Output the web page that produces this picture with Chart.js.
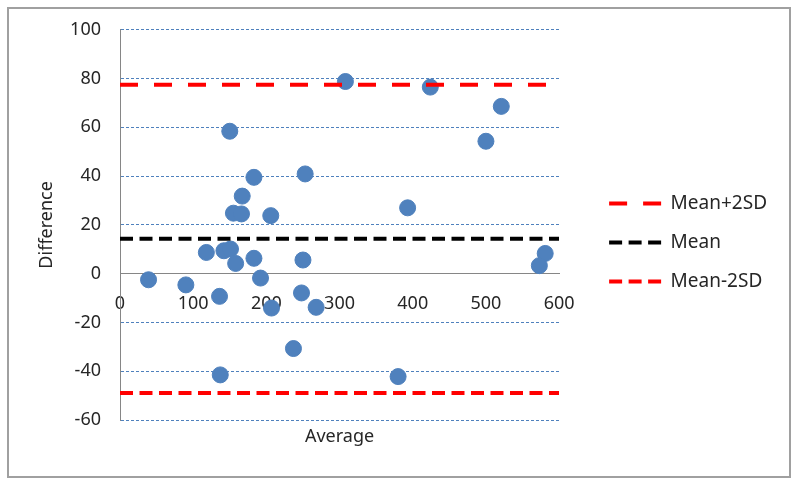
<!DOCTYPE html>
<html>
<head>
<meta charset="utf-8">
<script src="https://cdn.jsdelivr.net/npm/chart.js@4/dist/chart.umd.min.js"></script>
<style>
  html, body { margin: 0; padding: 0; background: #fff; }
  #wrap { width: 800px; height: 487px; }
</style>
</head>
<body>
<div id="wrap"><canvas id="baChart"></canvas></div>
<script>
// DATA
let avgValues  = [308, 150, 183, 253, 167, 155, 166, 206, 39, 90, 118, 142, 151, 158, 183, 192, 136, 207, 250, 248, 268, 237, 137, 424, 521, 500, 393, 581, 573, 380];
let diffValues = [78.8, 58.4, 39.5, 40.9, 31.8, 24.8, 24.5, 23.8, -2.5, -4.6, 8.7, 9.4, 10.1, 4.2, 6.3, -1.8, -9.3, -14.1, 5.6, -7.9, -13.8, -30.7, -41.5, 76.5, 68.6, 54.3, 27.0, 8.3, 3.3, -42.2];
let lineLabels = ['Mean+2SD', 'Mean', 'Mean-2SD'];
let lineLevels = [77.5, 14.3, -48.9];
let lineSpan   = [0, 600];
let xTicks = [0, 100, 200, 300, 400, 500, 600];
let yTicks = [-60, -40, -20, 0, 20, 40, 60, 80, 100];

let lineColors = ['#FF0000', '#000000', '#FF0000'];
let lineDashes = [[18, 16], [13, 6.5], [13, 6.5]];

let font = { family: 'Noto Sans', size: 18 };
let legendFont = { family: 'Noto Sans', size: 19 };

// white background + grey frame
const framePlugin = {
  id: 'frame',
  beforeDraw(chart) {
    let c = chart.ctx;
    c.save();
    c.fillStyle = '#fff';
    c.fillRect(0, 0, chart.width, chart.height);
    c.strokeStyle = '#A0A0A0';
    c.lineWidth = 2;
    c.strokeRect(8, 8, 782, 469);
    c.restore();
  }
};

let datasets = [{
  type: 'scatter',
  label: 'points',
  data: avgValues.map((x, i) => ({ x: x, y: diffValues[i] })),
  backgroundColor: '#4F81BD',
  borderColor: '#4F81BD',
  pointRadius: 8,
  pointHoverRadius: 8,
  order: 1
}];

lineLabels.forEach((lbl, i) => {
  datasets.push({
    type: 'line',
    label: lbl,
    data: lineSpan.map(x => ({ x: x, y: lineLevels[i] })),
    borderColor: lineColors[i],
    backgroundColor: lineColors[i],
    borderWidth: 4,
    borderDash: lineDashes[i],
    pointRadius: 0,
    fill: false,
    order: 0
  });
});

new Chart(document.getElementById('baChart'), {
  data: { datasets: datasets },
  plugins: [framePlugin],
  options: {
    responsive: true,
    maintainAspectRatio: false,
    animation: false,
    events: [],
    layout: { padding: { left: 0, right: 23, top: 25, bottom: 27 } },
    plugins: {
      tooltip: { enabled: false },
      legend: {
        position: 'right',
        labels: {
          font: legendFont,
          color: '#262626',
          usePointStyle: true,
          pointStyle: 'line',
          pointStyleWidth: 52,
          padding: 20,
          filter: item => item.text !== 'points',
          generateLabels: chart => {
            let items = Chart.defaults.plugins.legend.labels.generateLabels(chart);
            items.forEach(it => {
              let ds = chart.data.datasets[it.datasetIndex];
              it.pointStyle = 'line';
              it.lineDash = ds.borderDash;
              it.lineWidth = ds.borderWidth;
              it.strokeStyle = ds.borderColor;
            });
            return items;
          }
        }
      }
    },
    scales: {
      x: {
        type: 'linear',
        position: { y: 0 },
        min: 0,
        max: 600,
        afterBuildTicks: s => { s.ticks = xTicks.map(v => ({ value: v })); },
        ticks: { font: font, color: '#262626', padding: 19 },
        grid: { drawOnChartArea: false, drawTicks: false },
        border: { display: true, color: '#868686', width: 1 }
      },
      x2: {
        type: 'linear',
        position: 'bottom',
        min: 0,
        max: 600,
        afterFit: s => { s.height = 40; },
        ticks: { display: false },
        grid: { display: false, drawTicks: false },
        border: { display: false },
        title: { display: true, text: 'Average', font: font, color: '#262626', padding: { top: 6, bottom: 12 } }
      },
      y: {
        type: 'linear',
        min: -60,
        max: 100,
        afterBuildTicks: s => { s.ticks = yTicks.map(v => ({ value: v })); },
        afterFit: s => { s.width = 120; },
        ticks: { font: font, color: '#262626', padding: 19 },
        grid: { color: '#4F81BD', lineWidth: 1, drawTicks: false },
        border: { display: true, color: '#868686', width: 1, dash: [3, 2] },
        title: { display: true, text: 'Difference', font: font, color: '#262626', padding: { top: 36, bottom: 4 } }
      },
      // hidden spacer between plot and legend
      ySpace: {
        type: 'linear',
        position: 'right',
        display: false,
        afterFit: s => { s.width = 30; }
      }
    }
  }
});
</script>
</body>
</html>
